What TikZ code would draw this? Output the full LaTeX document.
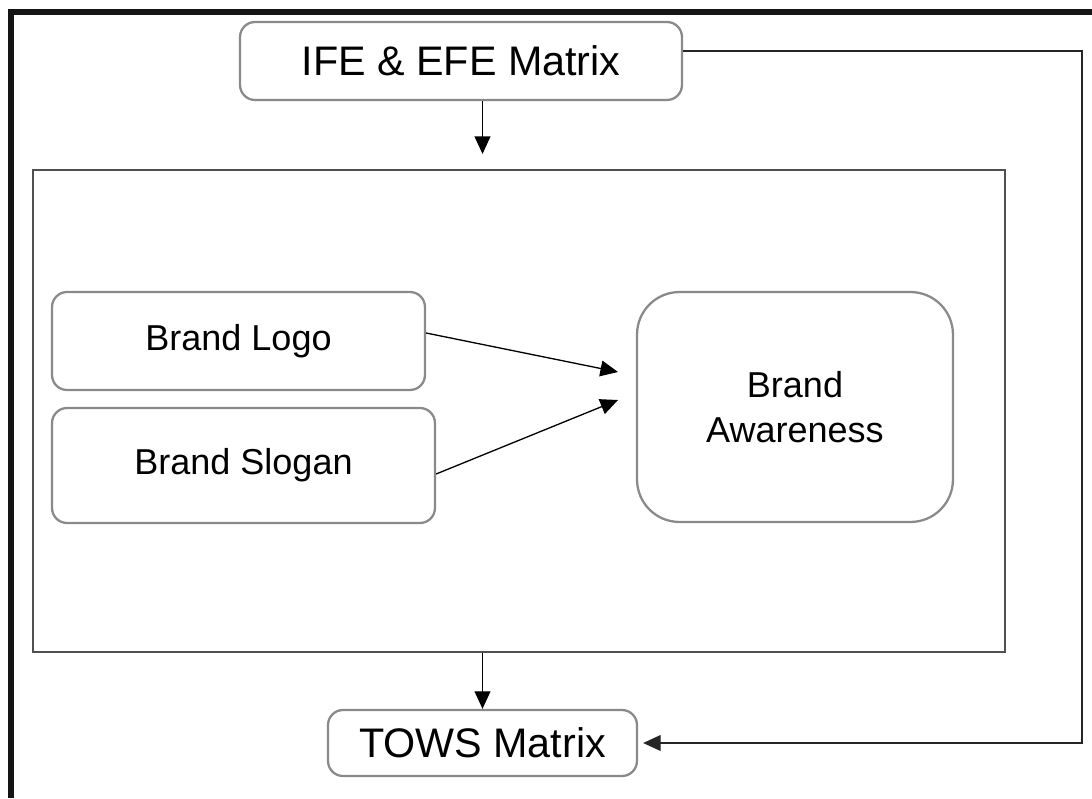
\documentclass[tikz,border=0pt]{standalone}
\usepackage{fontspec}
\setmainfont{Liberation Sans}
\usepackage{tikz}
\usetikzlibrary{arrows.meta}

\definecolor{boxgray}{HTML}{8A8A8A}
\definecolor{framegray}{HTML}{505050}

\begin{document}
\begin{tikzpicture}[x=0.02cm,y=0.02cm,
  >={Triangle[length=10pt,width=9pt]},
  main node/.style={rectangle,draw=boxgray,line width=1.3pt,rounded corners=0.3cm,
    font=\fontsize{20.5}{25.5}\selectfont,align=center,inner sep=0pt},
  big node/.style={main node,font=\fontsize{23.5}{28}\selectfont},
  side node/.style={rectangle,draw=framegray,line width=1.2pt,inner sep=0pt},
  link/.style={->,draw=black,line width=0.75pt}]
  \useasboundingbox (0,0) rectangle (1092,-798);
  \draw[line width=3pt,black!92] (11,-798) -- (11,-12) -- (1092,-12);

  \node[big node,minimum width=8.84cm,minimum height=1.56cm] (ife) at (461,-61) {IFE \& EFE Matrix};
  \node[side node,minimum width=19.44cm,minimum height=9.64cm] (box) at (519,-411) {};
  \node[main node,minimum width=7.46cm,minimum height=1.96cm] (logo) at (238.5,-341) {Brand Logo};
  \node[main node,minimum width=7.66cm,minimum height=2.3cm] (slogan) at (243.5,-465.5) {Brand Slogan};
  \node[main node,rounded corners=0.85cm,minimum width=6.32cm,minimum height=4.6cm] (aware) at (795,-407) {Brand\\Awareness};
  \node[big node,minimum width=6.18cm,minimum height=1.32cm] (tows) at (482.5,-743) {TOWS Matrix};

  \coordinate (tipA) at (618,-372);
  \coordinate (tipB) at (618,-400);
  \coordinate (corner) at (1082,-400);

  \draw[link] (ife.south -| tows.north) -- ([yshift=0.3cm]box.north -| tows.north);
  \draw[link] (box.south -| tows.north) -- (tows.north);
  \draw[link] ([yshift=0.16cm]logo.east) -- (tipA);
  \draw[link] ([yshift=-0.17cm]slogan.east) -- (tipB);
  \draw[link,draw=black!85] ([yshift=0.2cm]ife.east) -| (corner) |- ([xshift=0.1cm]tows.east);
\end{tikzpicture}
\end{document}
